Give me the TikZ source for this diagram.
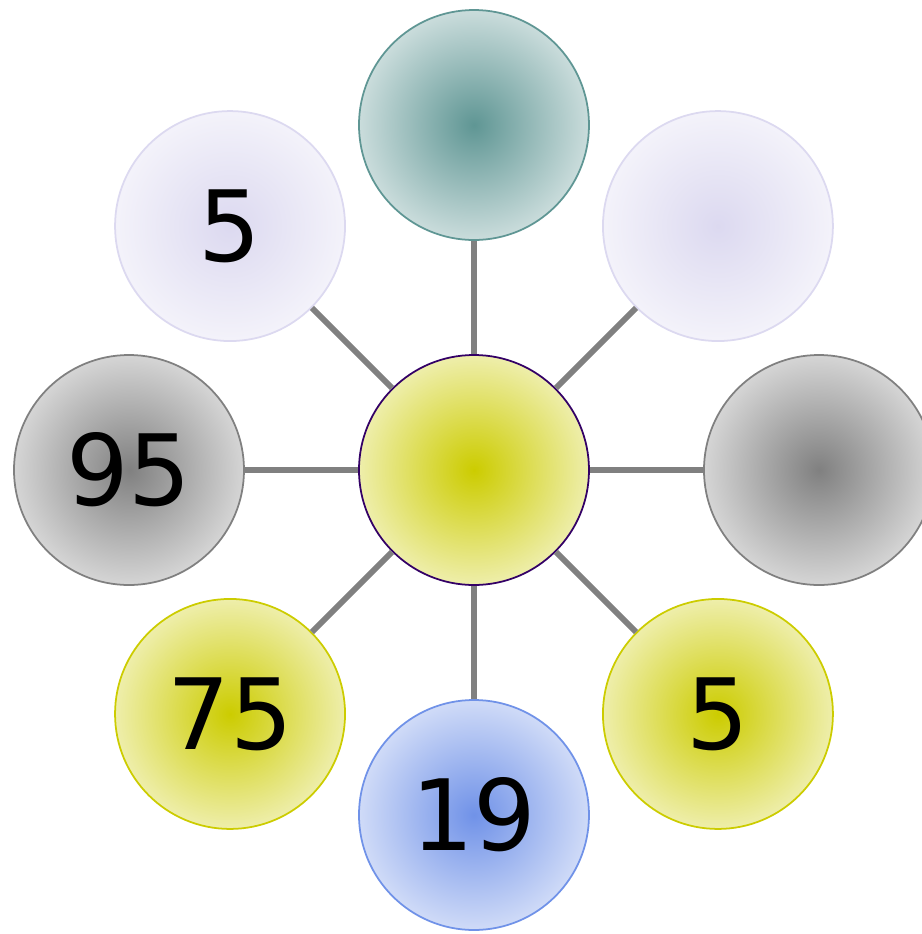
\documentclass[tikz,border=0pt]{standalone}
\usepackage{fontspec}
\setmainfont{DejaVu Sans}
\usetikzlibrary{positioning}

\definecolor{hubcol}{RGB}{204,204,0}
\definecolor{hubline}{RGB}{51,0,102}
\definecolor{greycol}{RGB}{128,128,128}
\definecolor{tealcol}{RGB}{95,150,148}
\definecolor{lavcol}{RGB}{220,217,240}
\definecolor{bluecol}{RGB}{112,146,232}

\pgfdeclareradialshading[ballin,ballout]{glow}{\pgfpoint{0bp}{0bp}}{color(0bp)=(ballin); color(25bp)=(ballout); color(50bp)=(ballout)}

\tikzset{
  ball/.style={circle, minimum size=2.3cm, inner sep=0pt, line width=0.5pt,
    font=\fontsize{28}{34}\selectfont, shading=glow, draw=#1,
    /utils/exec={\colorlet{ballin}{#1}\colorlet{ballout}{#1!33!white}}},
  spoke/.style={draw=greycol, line width=1.7pt}
}

\begin{document}
\begin{tikzpicture}[node distance=3.45cm,on grid]
  \useasboundingbox (-4.74,-4.64) rectangle (4.48,4.70);
  \node[ball=hubcol,draw=hubline] (hub) at (0,0) {};
  \node[ball=tealcol]   (top)   [above=of hub] {};
  \node[ball=lavcol]    (topr)  [above right=of hub] {};
  \node[ball=greycol]   (right) [right=of hub] {};
  \node[ball=hubcol]    (botr)  [below right=of hub] {5};
  \node[ball=bluecol]   (bot)   [below=of hub] {19};
  \node[ball=hubcol]    (botl)  [below left=of hub] {75};
  \node[ball=greycol]   (left)  [left=of hub] {95};
  \node[ball=lavcol]    (topl)  [above left=of hub] {5};
  \foreach \n in {top,topr,right,botr,bot,botl,left,topl}
    \draw[spoke] (hub) -- (\n);
\end{tikzpicture}
\end{document}
